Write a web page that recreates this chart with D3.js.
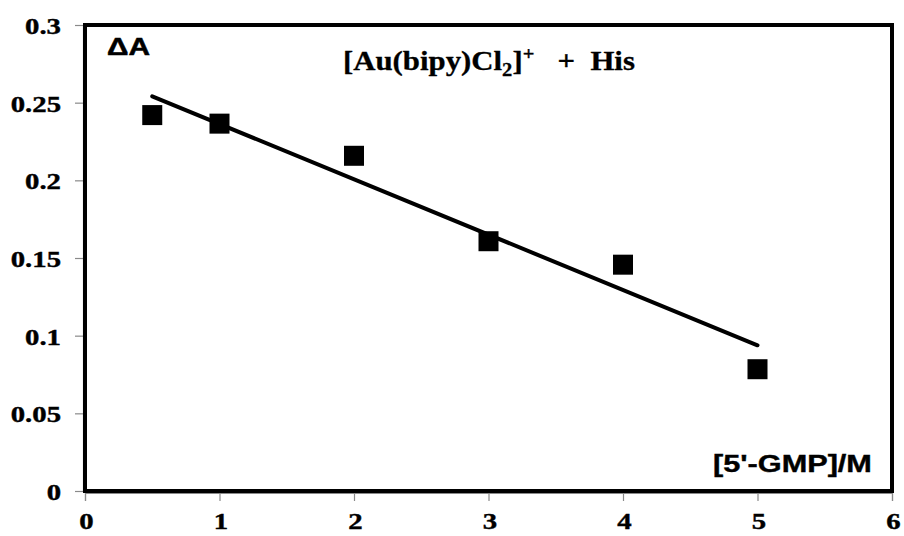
<!DOCTYPE html>
<html><head><meta charset="utf-8">
<script src="https://cdn.jsdelivr.net/npm/d3@7"></script>
<style>body{margin:0;background:#fff}svg{display:block}</style>
</head><body>
<script>
const xValues = [0.5, 1, 2, 3, 4, 5];
const yValues = [0.242, 0.2365, 0.2158, 0.1608, 0.1457, 0.0784];
const xTicks = [0, 1, 2, 3, 4, 5, 6];
const yTicks = [0, 0.05, 0.1, 0.15, 0.2, 0.25, 0.3];
const yLabel = "ΔA";
const xLabel = "[5'-GMP]/M";

const W = 904, H = 536;
const svg = d3.select("body").append("svg").attr("width", W).attr("height", H);
const x = d3.scaleLinear().domain([0, 6]).range([85, 892]);
const y = d3.scaleLinear().domain([0, 0.3]).range([491, 25]);

const serif = "'Liberation Serif','Times New Roman',serif";
const sans = "'Liberation Sans',Arial,sans-serif";
const SX = 1.25; // horizontal stretch of the lettering in the reference

// axes (gray) with outside ticks
const gx = svg.append("g").attr("transform", "translate(0,493)")
  .call(d3.axisBottom(x).tickValues(xTicks).tickSize(8).tickFormat(d3.format("d")));
const gy = svg.append("g").attr("transform", "translate(83,0)")
  .call(d3.axisLeft(y).tickValues(yTicks).tickSize(8).tickFormat(d => d === 0 ? "0" : String(+d.toFixed(2))));
[gx, gy].forEach(g => {
  g.select(".domain").attr("stroke", "#8a8a8a").attr("stroke-width", 1.2);
  g.selectAll(".tick line").attr("stroke", "#8a8a8a").attr("stroke-width", 1.2);
  g.selectAll("text").attr("fill", "#000").style("font-family", serif)
    .style("font-weight", "bold").style("font-size", "23px")
    .attr("stroke", "#000").attr("stroke-width", 0.4);
});
gx.selectAll(".tick line").attr("y1", 0);
gx.selectAll("text").attr("x", 0).attr("y", 20).attr("dy", "0.71em")
  .attr("transform", `translate(1,0) scale(${SX},1)`);
gy.selectAll("text").attr("x", 0).attr("dy", "0.32em")
  .attr("transform", `translate(-22,1) scale(${SX},1)`);

// frame
svg.append("rect").attr("x", x(0)).attr("y", y(0.3))
  .attr("width", x(6) - x(0)).attr("height", y(0) - y(0.3))
  .attr("fill", "none").attr("stroke", "#000").attr("stroke-width", 4);

// linear trendline from the data (least squares)
const n = xValues.length;
const mx = d3.mean(xValues), my = d3.mean(yValues);
let sxy = 0, sxx = 0;
for (let i = 0; i < n; i++) { sxy += (xValues[i]-mx)*(yValues[i]-my); sxx += (xValues[i]-mx)**2; }
const slope = sxy / sxx, icpt = my - slope * mx;
const xr = d3.extent(xValues);
svg.append("line")
  .attr("x1", x(xr[0])).attr("y1", y(icpt + slope * xr[0]))
  .attr("x2", x(xr[1])).attr("y2", y(icpt + slope * xr[1]))
  .attr("stroke", "#000").attr("stroke-width", 4).attr("stroke-linecap", "round");

// markers
const s = 20;
svg.selectAll("rect.pt").data(xValues).enter().append("rect").attr("class", "pt")
  .attr("x", (d) => x(d) - s/2).attr("y", (d, i) => y(yValues[i]) - s/2)
  .attr("width", s).attr("height", s).attr("fill", "#000");

function fitText(sel, px, py, targetW) {
  const w = sel.node().getComputedTextLength();
  sel.attr("transform", `translate(${px},${py}) scale(${targetW / w},1)`);
}

// labels
const tA = svg.append("text").attr("x", 0).attr("y", 0)
  .style("font-family", sans).style("font-weight", "bold").style("font-size", "23px")
  .attr("stroke", "#000").attr("stroke-width", 0.5).text(yLabel);
fitText(tA, 107, 55, 43);

const tX = svg.append("text").attr("x", 0).attr("y", 0)
  .style("font-family", sans).style("font-weight", "bold").style("font-size", "24px")
  .attr("stroke", "#000").attr("stroke-width", 0.4).text(xLabel);
fitText(tX, 713, 472, 159);

const tT = svg.append("text").attr("x", 0).attr("y", 0)
  .style("font-family", serif).style("font-weight", "bold").style("font-size", "27px")
  .attr("stroke", "#000").attr("stroke-width", 0.3);
tT.append("tspan").text("[Au(bipy)Cl");
tT.append("tspan").attr("dy", 6).style("font-size", "18px").text("2");
tT.append("tspan").attr("dy", -6).text("]");
tT.append("tspan").attr("dy", -10).style("font-size", "18px").text("+");
tT.append("tspan").attr("dy", 10).style("white-space", "pre").text("   +  His");
fitText(tT, 343, 70, 292);
</script>
</body></html>
